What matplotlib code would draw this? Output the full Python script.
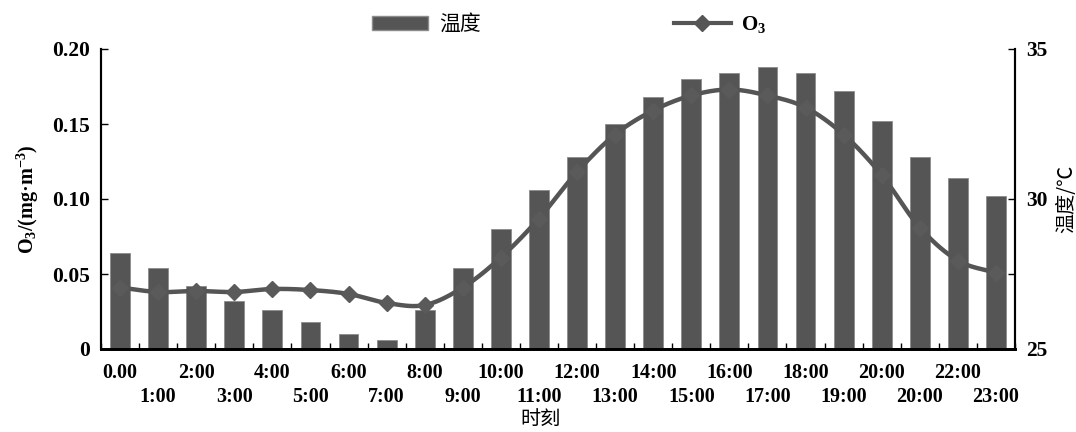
import numpy as np
import matplotlib.pyplot as plt
from matplotlib.lines import Line2D
from matplotlib.patches import Patch

plt.rcParams['mathtext.fontset'] = 'custom'
plt.rcParams['mathtext.rm'] = 'Liberation Serif:bold'
plt.rcParams['mathtext.it'] = 'Liberation Serif:bold'
plt.rcParams['mathtext.bf'] = 'Liberation Serif:bold'

# data
hours = np.arange(24)
tick_labels = ['0.00', '1:00', '2:00', '3:00', '4:00', '5:00', '6:00', '7:00',
               '8:00', '9:00', '10:00', '11:00', '12:00', '13:00', '14:00', '15:00',
               '16:00', '17:00', '18:00', '19:00', '20:00', '20:00', '22:00', '23:00']
temp = [28.2, 27.7, 27.1, 26.6, 26.3, 25.9, 25.5, 25.3, 26.3, 27.7, 29.0, 30.3,
        31.4, 32.5, 33.4, 34.0, 34.2, 34.4, 34.2, 33.6, 32.6, 31.4, 30.7, 30.1]
o3 = [0.041, 0.038, 0.0387, 0.038, 0.040, 0.0393, 0.0367, 0.0307, 0.0293, 0.041,
      0.061, 0.087, 0.118, 0.143, 0.159, 0.169, 0.173, 0.169, 0.161, 0.143,
      0.116, 0.081, 0.059, 0.0507]

grey = '#555555'
serif = ['Liberation Serif', 'Noto Sans CJK SC']
cjk = ['Noto Sans CJK SC', 'DejaVu Sans']


def smooth(x, y, n=20):
    # catmull-rom curve through the points, like a smoothed excel line
    x = np.asarray(x, float)
    y = np.asarray(y, float)
    px = np.concatenate([[2 * x[0] - x[1]], x, [2 * x[-1] - x[-2]]])
    py = np.concatenate([[2 * y[0] - y[1]], y, [2 * y[-1] - y[-2]]])
    xs, ys = [], []
    t = np.linspace(0, 1, n, endpoint=False)
    for i in range(1, len(px) - 2):
        for p, out in ((px, xs), (py, ys)):
            p0, p1, p2, p3 = p[i - 1], p[i], p[i + 1], p[i + 2]
            out.extend(0.5 * (2 * p1 + (-p0 + p2) * t
                              + (2 * p0 - 5 * p1 + 4 * p2 - p3) * t ** 2
                              + (-p0 + 3 * p1 - 3 * p2 + p3) * t ** 3))
    xs.append(x[-1])
    ys.append(y[-1])
    return np.array(xs), np.array(ys)


fig = plt.figure(figsize=(10.76, 4.32), dpi=100)
ax = fig.add_axes([101 / 1076, 83 / 432, 914 / 1076, 300 / 432])
ax2 = ax.twinx()

# bars on the right axis, line on the left axis drawn on top
ax.set_zorder(ax2.get_zorder() + 1)
ax.patch.set_visible(False)

ax2.bar(hours, temp, width=0.52, color=grey, edgecolor='#8c8c8c', linewidth=0.6)
ax2.set_ylim(25, 35)

sx, sy = smooth(hours, o3)
ax.plot(sx, sy, color=grey, lw=3.2, solid_capstyle='round')
ax.plot(hours, o3, ls='none', marker='D', ms=8.5, color='#5a5a5a')
ax.set_ylim(0, 0.20)
ax.set_xlim(-0.5, 23.5)

# left axis
ax.set_yticks([0, 0.05, 0.10, 0.15, 0.20])
ax.set_yticklabels(['0', '0.05', '0.10', '0.15', '0.20'])
ax.tick_params(axis='y', direction='in', length=5, width=1, pad=8)
ax.set_ylabel(r'O$_3$/(mg·m$^{-3}$)', family=serif, fontsize=14.5,
              fontweight='bold', labelpad=8)

# right axis
ax2.set_yticks([25, 27.5, 30, 35])
ax2.set_yticklabels(['25', '', '30', '35'])
ax2.tick_params(axis='y', direction='in', length=5, width=1, pad=8)
ax2.set_ylabel('温度/℃', family=cjk, fontsize=14.5, labelpad=6)

# x axis: ticks between bars, labels at bar centres on two rows
ax.set_xticks(np.arange(-0.5, 24, 1))
ax.set_xticklabels([])
ax.tick_params(axis='x', direction='in', length=4, width=1)
ax.set_xticks(hours, minor=True)
ax.set_xticklabels(tick_labels, minor=True)
ax.tick_params(axis='x', which='minor', length=0, pad=10)
for i, t in enumerate(ax.xaxis.get_minor_ticks()):
    if i % 2 == 1:
        t.set_pad(27.5)
fig.text(541 / 1076, 1 - 419 / 432, '时刻', family=cjk, fontsize=14.5,
         ha='center', va='center')

for a in (ax, ax2):
    for lbl in a.get_xticklabels(minor=True):
        lbl.set_family(serif)
        lbl.set_fontsize(14.5)
        lbl.set_fontweight('bold')
    for lbl in a.get_yticklabels():
        lbl.set_family(serif)
        lbl.set_fontsize(15.5)
        lbl.set_fontweight('bold')
    a.spines['top'].set_visible(False)
    a.spines['bottom'].set_linewidth(2)
    a.spines['left'].set_linewidth(1.5)
    a.spines['right'].set_linewidth(1.5)

handles = [Patch(facecolor=grey, edgecolor='#8c8c8c'),
           Line2D([], [], color=grey, lw=3, marker='D', ms=8)]
leg = fig.legend(handles, ['温度', r'O$_3$'], loc='center', ncol=2,
                 bbox_to_anchor=(0.529, 0.944), frameon=False, columnspacing=9.3,
                 handlelength=2.7, handleheight=0.7, handletextpad=0.5,
                 prop={'family': cjk, 'size': 15})
leg.get_texts()[1].set_family(serif)
leg.get_texts()[1].set_fontweight('bold')

fig.savefig('out.png', dpi=100)
